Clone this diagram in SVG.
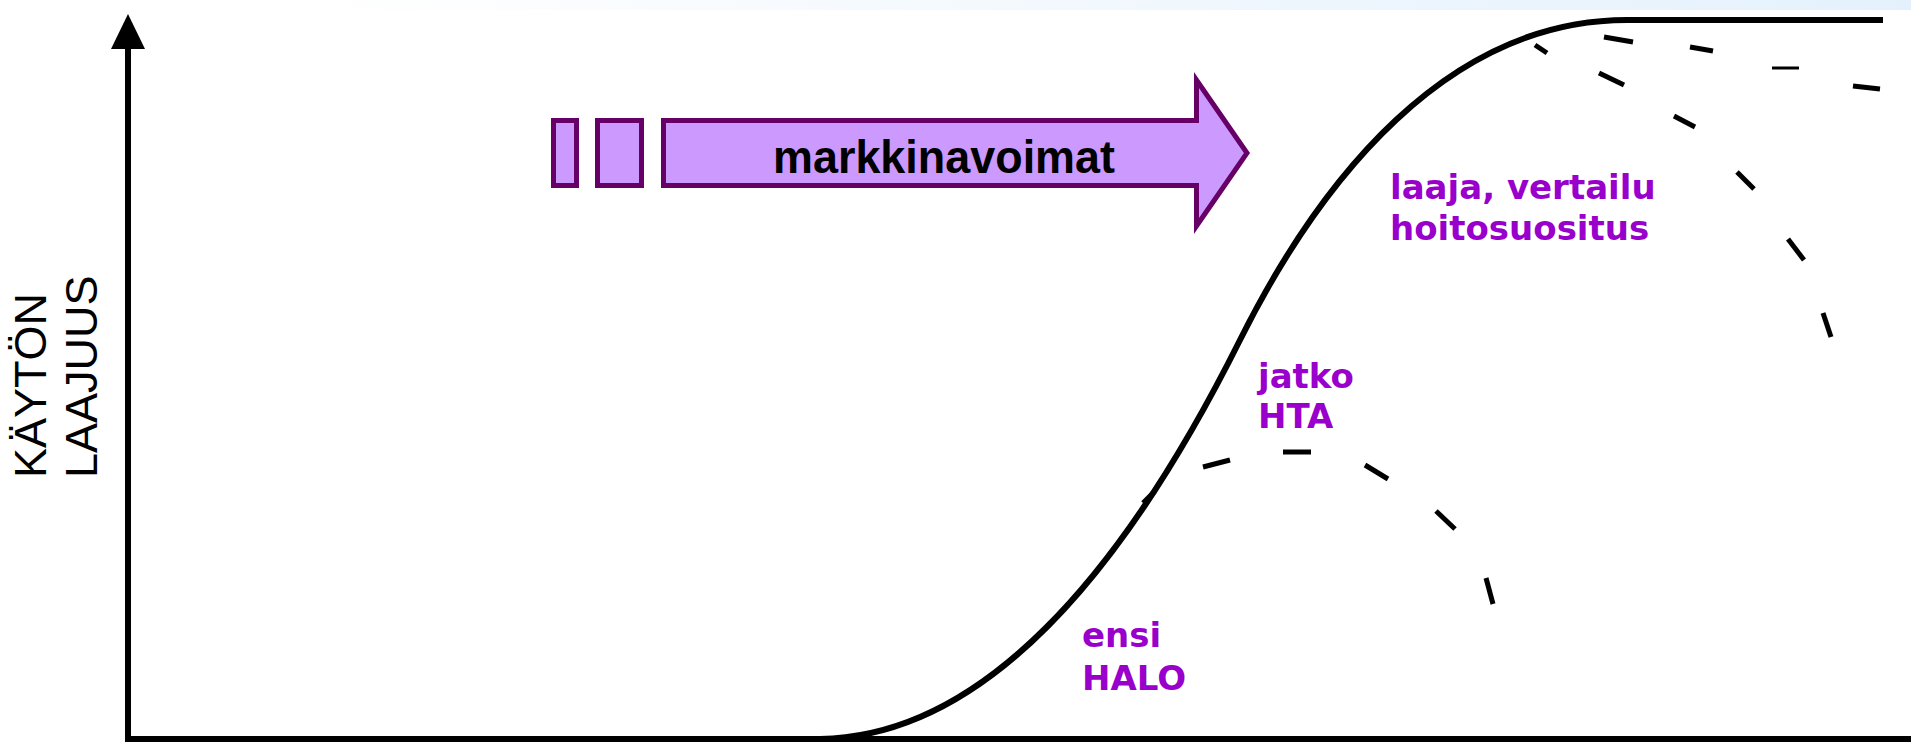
<svg xmlns="http://www.w3.org/2000/svg" width="1911" height="742" viewBox="0 0 1911 742">
<defs>
<linearGradient id="topband" x1="0" y1="0" x2="1" y2="0">
<stop offset="0" stop-color="#ffffff"/>
<stop offset="1" stop-color="#e4f1fc"/>
</linearGradient>
<style>
.ax{stroke:#000;stroke-width:6;fill:none}
.curve{stroke:#000;stroke-width:6;fill:none;stroke-linejoin:round;stroke-linecap:butt}
.dash{stroke:#000;stroke-width:5;fill:none;stroke-linecap:butt}
.box{fill:#cc99ff;stroke:#660066;stroke-width:5}
.lbl{font-family:"DejaVu Sans","Liberation Sans",sans-serif;font-weight:bold;font-size:34px;fill:#9900cc}
.yl{font-family:"Liberation Sans",Arial,sans-serif;font-size:45px;fill:#000}
.mk{font-family:"Liberation Sans",Arial,sans-serif;font-weight:bold;font-size:47px;fill:#000}
</style>
</defs>
<rect x="300" y="0" width="1611" height="10" fill="url(#topband)"/>
<g id="axes">
<line class="ax" x1="128" y1="46" x2="128" y2="742"/>
<polygon points="128,14 145,49 111,49" fill="#000"/>
<line class="ax" x1="125" y1="739" x2="1911" y2="739"/>
</g>
<g id="axis-label">
<text class="yl" transform="translate(46,478) rotate(-90)">KÄYTÖN</text>
<text class="yl" transform="translate(97,478) rotate(-90)">LAAJUUS</text>
</g>
<g id="connectors">
<path class="curve" d="M820,739 C980,737 1120,580 1240,340 C1320,180 1447,20 1627,20 L1883,20"/>
<g id="branch-low">
<line class="dash" x1="1143" y1="503" x2="1155" y2="491"/>
<line class="dash" x1="1203" y1="467" x2="1230" y2="460"/>
<line class="dash" x1="1283" y1="452" x2="1311" y2="452"/>
<line class="dash" x1="1365" y1="465" x2="1388" y2="479"/>
<line class="dash" x1="1436" y1="511" x2="1455" y2="529"/>
<line class="dash" x1="1486" y1="578" x2="1493" y2="604"/>
</g>
<g id="branch-mid">
<line class="dash" x1="1535" y1="45" x2="1547" y2="53"/>
<line class="dash" x1="1599" y1="73" x2="1624" y2="85"/>
<line class="dash" x1="1674" y1="116" x2="1695" y2="127"/>
<line class="dash" x1="1737" y1="172" x2="1754" y2="189"/>
<line class="dash" x1="1788" y1="239" x2="1804" y2="260"/>
<line class="dash" x1="1823" y1="313" x2="1831" y2="337"/>
</g>
<g id="branch-high">
<line class="dash" x1="1604" y1="37" x2="1633" y2="42"/>
<line class="dash" x1="1690" y1="47" x2="1713" y2="51"/>
<line class="dash" x1="1772" y1="68" x2="1799" y2="68" style="stroke-width:3"/>
<line class="dash" x1="1853" y1="86" x2="1880" y2="89"/>
</g>
</g>
<g id="markkinavoimat">
<rect class="box" x="553.5" y="120.5" width="23" height="65"/>
<rect class="box" x="597.5" y="120.5" width="44" height="65"/>
<polygon class="box" points="663.5,120.5 1196.5,120.5 1196.5,80 1247,153 1196.5,226 1196.5,185.5 663.5,185.5"/>
<text class="mk" x="944" y="173" text-anchor="middle" textLength="342" lengthAdjust="spacingAndGlyphs">markkinavoimat</text>
</g>
<g id="label-ensi">
<text class="lbl" x="1082" y="647">ensi</text>
<text class="lbl" x="1082" y="690">HALO</text>
</g>
<g id="label-jatko">
<text class="lbl" x="1258" y="388">jatko</text>
<text class="lbl" x="1258" y="428">HTA</text>
</g>
<g id="label-laaja">
<text class="lbl" x="1390" y="199">laaja, vertailu</text>
<text class="lbl" x="1390" y="240">hoitosuositus</text>
</g>
</svg>
